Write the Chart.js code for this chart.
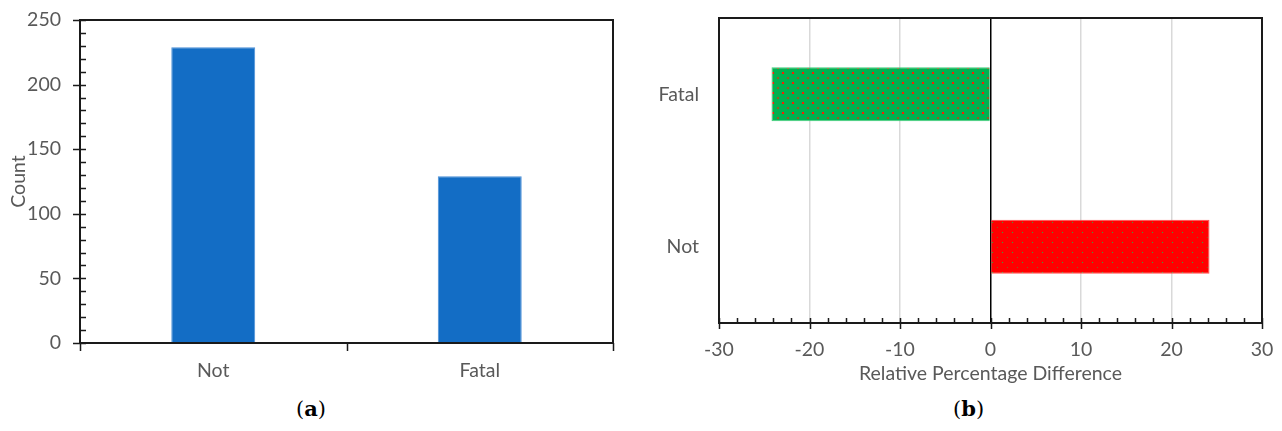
<!DOCTYPE html>
<html>
<head>
<meta charset="utf-8">
<script src="https://cdn.jsdelivr.net/npm/chart.js@4.4.1/dist/chart.umd.min.js"></script>
<style>
    body { margin: 0; background: #fff; width: 1282px; height: 431px; overflow: hidden; position: relative; }
    .panel { position: absolute; top: 0; height: 395px; }
    .caption { position: absolute; top: 396px; font-family: "DejaVu Serif", "Liberation Serif", serif; font-size: 21px; color: #000; }
</style>
</head>
<body>
<div class="panel" style="left:0; width:640px;"><canvas id="countChart"></canvas></div>
<div class="panel" style="left:640px; width:642px;"><canvas id="diffChart"></canvas></div>
<div class="caption" style="left:296px;">(<b>a</b>)</div>
<div class="caption" style="left:953px;">(<b>b</b>)</div>

<script>
// panel (a): counts per outcome
const countLabels = ['Not', 'Fatal'];
const countValues = [229, 129];
const countAxis = { min: 0, max: 250, step: 50, minor: 10 };

// panel (b): relative percentage difference per outcome
const diffLabels = ['Fatal', 'Not'];
const diffValues = [-24.2, 24.2];
const diffAxis = { min: -30, max: 30, step: 10, minor: 2 };

const FONT = 'Lato, "Open Sans", sans-serif';
const TEXT = '#595959';

Chart.defaults.font.family = FONT;
Chart.defaults.font.size = 19.5;
Chart.defaults.color = TEXT;

// small tile with a dot lattice, like the office "dotted" fill
function dotPattern(bg, dot, big) {
    const c = document.createElement('canvas');
    c.width = 10; c.height = 10;
    const g = c.getContext('2d');
    g.fillStyle = bg;
    g.fillRect(0, 0, 10, 10);
    g.fillStyle = dot;
    g.fillRect(2, 2, big, big);
    g.globalAlpha = 0.6;
    g.fillRect(7, 7, big, big);
    return g.createPattern(c, 'repeat');
}

// keep the plot box where layout.padding puts it (no extra room for edge labels)
function fixSize(prop, size) {
    return s => {
        s[prop] = size;
        s.paddingTop = s.paddingBottom = s.paddingLeft = s.paddingRight = 0;
    };
}

// frame + excel-like tick marks, drawn on top of the bars
function framePlugin(drawTicks) {
    return {
        id: 'frame',
        afterDatasetsDraw(chart) {
            const { ctx, chartArea: a } = chart;
            ctx.save();
            ctx.strokeStyle = '#1a1a1a';
            ctx.lineWidth = 2;
            ctx.strokeRect(a.left, a.top, a.right - a.left, a.bottom - a.top);
            ctx.lineWidth = 1.5;
            ctx.beginPath();
            drawTicks(chart, ctx);
            ctx.stroke();
            ctx.restore();
        }
    };
}

const countTicks = framePlugin((chart, ctx) => {
    const y = chart.scales.y, x = chart.scales.x;
    const ax = chart.chartArea.left;
    for (let v = countAxis.min; v <= countAxis.max; v += countAxis.minor) {
        const py = Math.round(y.getPixelForValue(v)) + 0.5;
        const major = v % countAxis.step === 0;
        ctx.moveTo(major ? ax - 7 : ax, py);
        ctx.lineTo(ax + 6, py);
    }
    const by = chart.chartArea.bottom;
    for (let i = -0.5; i <= countLabels.length - 0.5; i += 1) {
        const px = Math.round(x.getPixelForValue(i)) + 0.5;
        ctx.moveTo(px, by);
        ctx.lineTo(px, by + 8);
    }
});

const diffTicks = framePlugin((chart, ctx) => {
    const x = chart.scales.x;
    const by = chart.chartArea.bottom;
    for (let v = diffAxis.min; v <= diffAxis.max; v += diffAxis.minor) {
        const px = Math.round(x.getPixelForValue(v)) + 0.5;
        const major = v % diffAxis.step === 0;
        ctx.moveTo(px, by - 5);
        ctx.lineTo(px, major ? by + 6 : by);
    }
});

new Chart(document.getElementById('countChart'), {
    type: 'bar',
    data: {
        labels: countLabels,
        datasets: [{
            data: countValues,
            backgroundColor: '#136dc5',
            borderColor: '#4a8fd6',
            borderWidth: 1,
            categoryPercentage: 1,
            barPercentage: 0.315
        }]
    },
    options: {
        responsive: true,
        maintainAspectRatio: false,
        animation: false,
        layout: { padding: { left: 0, top: 20, right: 27, bottom: 0 } },
        plugins: { legend: { display: false }, tooltip: { enabled: false } },
        scales: {
            x: {
                grid: { display: false, drawTicks: false },
                border: { display: false },
                ticks: { padding: 16 },
                afterFit: fixSize('height', 52)
            },
            y: {
                min: countAxis.min,
                max: countAxis.max,
                grid: { display: false, drawTicks: false },
                border: { display: false },
                ticks: { stepSize: countAxis.step, padding: 19 },
                title: { display: true, text: 'Count', color: TEXT, padding: { top: 7, bottom: 0 } },
                afterFit: fixSize('width', 80)
            }
        }
    },
    plugins: [countTicks]
});

new Chart(document.getElementById('diffChart'), {
    type: 'bar',
    data: {
        labels: diffLabels,
        datasets: [{
            data: diffValues,
            backgroundColor: [dotPattern('#00b050', '#ff1a00', 2), dotPattern('#ff0000', '#2fae3a', 1)],
            borderColor: ['#3fd07a', '#ff5050'],
            borderWidth: 1,
            categoryPercentage: 1,
            barPercentage: 0.354
        }]
    },
    options: {
        indexAxis: 'y',
        responsive: true,
        maintainAspectRatio: false,
        animation: false,
        layout: { padding: { left: 0, top: 18, right: 20, bottom: 0 } },
        plugins: { legend: { display: false }, tooltip: { enabled: false } },
        scales: {
            x: {
                min: diffAxis.min,
                max: diffAxis.max,
                grid: {
                    drawTicks: false,
                    lineWidth: 1.5,
                    color: c => c.tick.value === 0 ? '#000' : (Math.abs(c.tick.value) === diffAxis.max ? 'rgba(0,0,0,0)' : '#d9d9d9')
                },
                border: { display: false },
                ticks: { stepSize: diffAxis.step, padding: 15 },
                title: { display: true, text: 'Relative Percentage Difference', color: TEXT, padding: { top: 0, bottom: 10 } },
                afterFit: fixSize('height', 72)
            },
            y: {
                grid: { display: false, drawTicks: false },
                border: { display: false },
                ticks: { padding: 20 },
                afterFit: fixSize('width', 79)
            }
        }
    },
    plugins: [diffTicks]
});
</script>
</body>
</html>
